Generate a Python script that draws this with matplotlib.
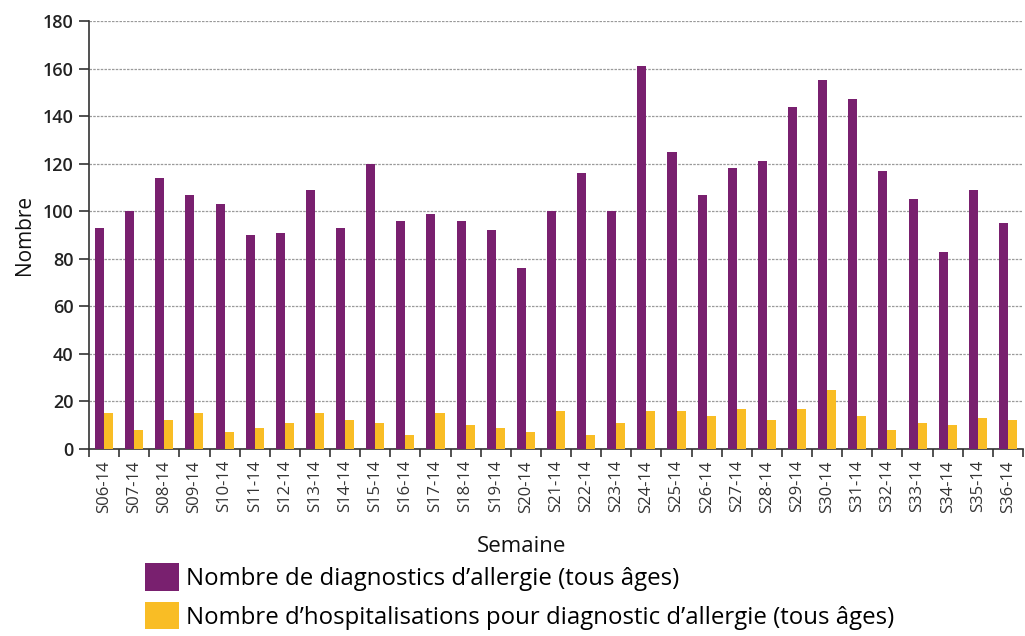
import matplotlib
matplotlib.use("Agg")
import matplotlib.pyplot as plt
import numpy as np
from matplotlib.patches import Patch
from matplotlib.ticker import FixedLocator, NullFormatter, FixedFormatter

weeks = ["S06-14", "S07-14", "S08-14", "S09-14", "S10-14", "S11-14", "S12-14", "S13-14",
         "S14-14", "S15-14", "S16-14", "S17-14", "S18-14", "S19-14", "S20-14", "S21-14",
         "S22-14", "S23-14", "S24-14", "S25-14", "S26-14", "S27-14", "S28-14", "S29-14",
         "S30-14", "S31-14", "S32-14", "S33-14", "S34-14", "S35-14", "S36-14"]
diagnostics = [93, 100, 114, 107, 103, 90, 91, 109, 93, 120, 96, 99, 96, 92, 76, 100,
               116, 100, 161, 125, 107, 118, 121, 144, 155, 147, 117, 105, 83, 109, 95]
hospitalisations = [15, 8, 12, 15, 7, 9, 11, 15, 12, 11, 6, 15, 10, 9, 7, 16,
                    6, 11, 16, 16, 14, 17, 12, 17, 25, 14, 8, 11, 10, 13, 12]
series_labels = ["Nombre de diagnostics d\u2019allergie (tous âges)",
                 "Nombre d\u2019hospitalisations pour diagnostic d\u2019allergie (tous âges)"]
yticks = [0, 20, 40, 60, 80, 100, 120, 140, 160, 180]

purple = "#79206f"
yellow = "#f9bd25"
font = "Open Sans"
plt.rcParams["font.family"] = [font, "DejaVu Sans"]

fig = plt.figure(figsize=(10.25, 6.36), dpi=100)
ax = fig.add_axes([89 / 1025, 1 - 449 / 636, 934 / 1025, 428 / 636])

x = np.arange(len(weeks))
w = 0.3
ax.bar(x - w / 2, diagnostics, width=w, color=purple, zorder=3)
ax.bar(x + w / 2, hospitalisations, width=w, color=yellow, zorder=3)

ax.set_xlim(-0.5, len(weeks) - 0.5)
ax.set_ylim(0, 180)
ax.set_yticks(yticks)
ax.yaxis.grid(True, linestyle=(0, (2, 1)), color="#9a9a9a", linewidth=0.9, zorder=0)
ax.set_axisbelow(True)

ax.xaxis.set_major_locator(FixedLocator(np.arange(len(weeks) + 1) - 0.5))
ax.xaxis.set_major_formatter(NullFormatter())
ax.xaxis.set_minor_locator(FixedLocator(x))
ax.xaxis.set_minor_formatter(FixedFormatter(weeks))
ax.tick_params(axis="x", which="major", length=6, width=1.2, color="#333333", direction="out")
ax.tick_params(axis="x", which="minor", length=0, labelsize=12, rotation=90, pad=8,
               labelcolor="#333333")
ax.tick_params(axis="y", length=7, width=1.2, color="#333333", labelsize=13,
               labelcolor="#222222", pad=4)
for lab in ax.get_yticklabels():
    lab.set_fontweight("semibold")

for s in ["top", "right"]:
    ax.spines[s].set_visible(False)
for s in ["left", "bottom"]:
    ax.spines[s].set_color("#333333")
    ax.spines[s].set_linewidth(1.2)

ax.set_ylabel("Nombre", fontsize=15, color="#111111", labelpad=6)
fig.text(522 / 1025, 1 - 546 / 636, "Semaine", fontsize=16, ha="center", va="center",
         color="#111111")

handles = [Patch(facecolor=purple, edgecolor="none"), Patch(facecolor=yellow, edgecolor="none")]
fig.legend(handles, series_labels, loc="upper left", bbox_to_anchor=(145 / 1025, 1 - 563 / 636),
           frameon=False, fontsize=17.3, handlelength=1.4, handleheight=1.4, handletextpad=0.3,
           labelspacing=0.45, borderaxespad=0, borderpad=0)

fig.savefig("out.png", dpi=100)
